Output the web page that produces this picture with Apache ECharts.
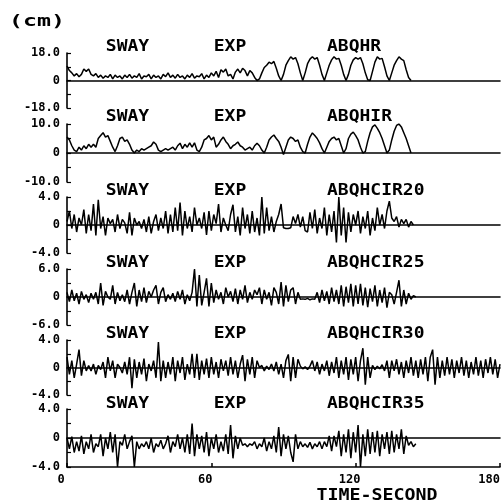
<!DOCTYPE html>
<html><head><meta charset="utf-8">
<script src="https://cdn.jsdelivr.net/npm/echarts@6/dist/echarts.min.js"></script>
<style>html,body{margin:0;padding:0;background:#fff}#c{width:502px;height:504px}</style>
</head><body><div id="c"></div>
<script>
// sampling step of all records (seconds)
const DT = 1;
const xTickValues = [0, 60, 120, 180];
const panelNames = ['ABQHR', 'ABQHIR', 'ABQHCIR20', 'ABQHCIR25', 'ABQHCIR30', 'ABQHCIR35'];
const yLimits = [18, 10, 4, 6, 4, 4];

const swayABQHR = [
 9.5, 6.5, 5, 3, 4.5, 2.5, 4, 7.5, 6, 7.5,
 4, 3, 4.5, 2, 3.5, 1.5, 3, 2, 4, 1,
 3.5, 2, 3, 1, 3.5, 2, 4, 1.5, 3, 2,
 4.5, 1, 3, 2.5, 4, 1, 3.5, 2, 3, 1,
 4, 2.5, 5, 2, 3.5, 1.5, 4, 2, 3, 1,
 3.5, 2, 4.5, 1.5, 3, 2.5, 4.5, 1, 3.5, 2,
 5, 3, 6, 2, 7, 5.5, 7.5, 3, 4, 1,
 5.5, 7.5, 5, 8, 6.5, 3, 6.5, 5, 2, 0,
 1, 5, 8.5, 10, 12, 11, 12.5, 8, 3, 0,
 4, 10, 13, 15.5, 14, 15, 11, 5, 0, 5,
 11, 14, 15.5, 14, 15, 10, 4, 0, 5, 10,
 13.5, 15.5, 14, 14.5, 10, 4, 0, 4, 10, 13.5,
 15, 14, 15, 11, 5, 0.5, 0, 6, 12, 15.5,
 14, 14.5, 9, 3, 0, 5, 10, 13, 15.5, 14,
 13, 7, 2, 0
];
const swayABQHIR = [
 5.5, 4.5, 2.5, 1, 0.5, 2, 1, 2.5, 1.5, 3,
 2, 3, 2, 5, 6, 7, 5.5, 6, 4, 2,
 0.5, 2.5, 5, 5.5, 4, 4.5, 3, 1, 0, 1,
 0.5, 1.5, 1, 1.5, 2, 2.5, 3.8, 3, 1, 0.5,
 1, 1.5, 1, 1.5, 2, 1, 2.5, 3.4, 1.5, 3,
 2, 3.5, 2, 3.5, 1, 0.5, 2, 4.5, 5, 6,
 4.5, 5.5, 2, 3, 4.5, 5.5, 4, 3, 1.5, 2.5,
 3, 3.8, 2.5, 2, 1, 1.5, 2, 1, 2.5, 3.4,
 2.5, 1, 0, 2, 4.5, 5.5, 6.2, 5, 4, 2,
 -0.5, 2, 4.5, 5.5, 5, 4, 4.5, 2, 0.5, 0,
 3, 5.5, 6.9, 6, 5, 3.5, 1.5, 0, 2, 4,
 5, 5.5, 4.5, 5, 2.5, 0, 1.5, 5, 6.5, 7.2,
 6, 4.5, 2, 0, 0.5, 4, 7, 9, 9.7, 8.5,
 7, 5, 2.5, 0, 1, 4.5, 7.5, 9.5, 10, 9,
 7, 5, 2.5, 0
];
const swayABQHCIR20 = [
 0.5, 2.0, -0.5, 1.5, -1.0, 1.0, 0.0, 2.2, -1.2, 1.5,
 -0.8, 3.0, -1.5, 3.6, -0.5, 1.2, -1.5, 1.0, 0.2, 0.8,
 -1.0, 1.5, -0.5, 0.8, 0.3, -1.2, 1.8, -1.5, 1.0, 0.0,
 0.5, -0.5, 0.8, -1.0, 1.2, -1.2, 0.5, 1.5, -0.8, 1.0,
 -0.5, 2.0, -1.2, 1.5, -1.0, 2.5, -0.8, 3.2, -1.5, 2.0,
 -0.5, 1.2, -1.0, 2.5, 0.0, 1.0, -0.5, 1.8, -1.4, 2.0,
 -0.8, 1.5, 0.2, 3.0, -1.0, 1.0, 0.0, -0.8, 1.5, 2.9,
 -1.0, 1.2, -1.5, 2.5, -0.5, 1.5, -1.2, 2.0, -1.0, 1.0,
 -1.5, 4.0, -1.2, 2.5, -0.8, 1.2, -1.0, 0.5, 1.5, 3.0,
 -0.4, -0.5, -0.5, -0.4, 1.2, 0.2, 1.5, -0.3, 1.2, -0.8,
 -1.0, 1.8, -0.5, 2.2, -1.2, 1.0, -0.5, 2.5, -1.5, 1.5,
 -1.0, 2.0, -2.5, 4.0, -1.5, 2.5, -2.5, 1.8, -1.0, 1.5,
 0.0, 2.0, -1.2, 1.2, -0.5, 2.0, -1.5, 1.0, -0.8, 2.5,
 0.0, 1.5, -0.5, 2.0, 3.4, 1.0, 0.5, 1.2, -0.3, 0.8,
 0.2, 0.8, -0.3, 0.5, 0.0
];
const swayABQHCIR25 = [
 1.0, -1.0, 1.5, -0.8, 0.8, -1.5, 1.2, -0.5, 0.5, -1.2,
 0.8, -0.5, 1.0, -1.5, 3.0, -1.8, 1.2, 0.0, -0.5, 2.5,
 -1.5, 1.0, -0.8, 0.5, -1.0, 1.5, -1.5, 1.0, 3.0, -2.0,
 1.5, -1.0, 2.0, -1.2, 1.2, 0.0, 1.5, 2.5, -1.5, 1.0,
 2.0, -1.0, 0.5, -0.5, 0.8, -1.0, 1.2, -0.5, 1.5, -1.5,
 0.5, -0.8, 1.0, 6.0, -2.0, 4.7, -1.8, 1.0, 4.0, -2.0,
 3.0, -1.2, 1.5, -0.5, 1.0, -1.5, 2.0, 0.0, 1.2, -1.0,
 1.8, -1.5, 1.5, -0.5, 2.5, -1.2, 1.0, -0.5, 1.5, 0.5,
 2.0, -1.5, 1.5, -0.5, 1.0, -1.8, 2.0, 1.0, -1.5, 3.2,
 -2.0, 2.5, -1.0, 1.5, 2.0, -1.5, 1.0, -0.5, -0.4, -0.5,
 -0.3, -0.6, -0.4, -0.5, 1.0, -1.2, 1.5, -0.8, 1.2, -1.5,
 2.0, -1.0, 1.5, -1.5, 2.5, -2.0, 2.2, -1.2, 2.8, -2.0,
 2.5, -1.5, 2.8, -1.8, 2.0, -2.2, 1.8, -1.0, 2.5, -2.0,
 1.5, -1.2, 2.0, -2.3, 1.0, 0.5, -1.5, 1.0, 3.6, -2.0,
 1.5, -1.5, 0.8, -0.5, 0.3, 0.0
];
const swayABQHCIR30 = [
 1.5, -1.0, 1.0, -1.5, 0.5, 2.6, -1.2, 1.0, -0.5, 0.3,
 -0.5, 0.5, -1.0, 0.3, -0.3, 0.8, -1.5, 1.5, -0.5, 1.0,
 -1.5, 0.5, 0.0, -0.8, 0.8, -1.0, 1.5, -3.0, 1.2, -1.5,
 0.8, -1.0, 1.3, -2.0, 0.5, -0.5, 1.0, -1.5, 3.7, -2.0,
 1.0, -1.5, 0.8, -1.0, 1.5, -2.0, 1.0, -0.8, 1.5, -1.8,
 0.5, -1.0, 2.0, -1.5, 2.0, -1.8, 1.0, -1.0, 1.3, -1.5,
 1.5, -1.0, 0.8, -1.5, 1.2, -0.5, 1.0, -1.2, 1.5, -1.0,
 1.0, -1.5, 0.5, 1.8, -2.0, 1.2, -1.0, 1.5, -1.5, 1.0,
 0.0, 0.3, -0.5, 0.2, -0.3, 0.5, -0.5, 0.8, -1.0, 0.5,
 -1.5, 1.0, 1.9, -2.0, 1.5, -1.5, 1.2, 0.2, -0.2, 0.1,
 -0.3, 0.2, 1.0, -0.5, 0.8, -1.0, 0.5, -0.5, 1.0, -1.2,
 0.8, -0.8, 1.5, -1.5, 1.0, -1.0, 1.5, -1.8, 1.2, -1.0,
 1.5, -2.0, 1.0, 2.8, -2.5, 1.5, -1.5, 0.3, -0.3, 0.2,
 -0.2, 0.4, -0.5, 1.0, -1.5, 1.0, -0.5, 1.2, -1.0, 0.8,
 -1.5, 1.0, -0.8, 1.5, -1.2, 1.0, -1.5, 1.2, -1.0, 1.5,
 -2.0, 1.5, 2.6, -2.5, 1.5, -1.5, 1.0, -1.2, 1.5, -1.0,
 1.2, -1.5, 1.0, -0.8, 1.5, -1.2, 1.0, -1.5, 0.8, -1.0,
 1.5, -1.2, 1.0, -1.5, 1.2, -0.8, 1.5, -1.0, 1.2, -1.5,
 0.5
];
const swayABQHCIR35 = [
 0.0, -1.5, 0.2, -2.0, -0.5, -1.8, 0.3, -2.2, -0.5, -1.5,
 0.5, -2.0, -0.8, -1.2, 0.5, -2.5, 0.0, -1.5, 0.8, -2.0,
 0.5, -4.0, -0.5, -1.0, 0.5, -1.5, -0.5, 0.3, -4.0, -0.5,
 -1.5, -0.8, -1.2, -0.5, -1.5, 0.0, -2.0, -0.8, -1.2, -0.3,
 -1.5, -0.8, 0.3, -2.0, -0.5, -1.2, 0.5, -1.5, 0.0, -2.0,
 0.5, -2.2, 2.0, -2.5, 0.5, -1.5, 0.3, -2.0, 0.8, -2.5,
 0.0, -1.5, 0.5, -2.0, -0.5, -1.8, 0.5, -2.2, 1.8, -2.8,
 0.3, -1.5, 0.0, -1.0, -0.8, -1.2, -0.8, -1.0, -0.5, -1.5,
 -0.8, -1.2, 0.0, -1.8, -0.5, -1.5, 0.3, -2.0, 1.5, -2.5,
 0.5, -1.5, 0.3, -2.0, -3.3, 0.5, -1.5, -0.5, -1.2, -0.8,
 -1.3, -0.6, -1.5, -0.8, -1.2, -0.5, -1.5, -0.5, -1.2, 0.3,
 -1.8, 0.3, -1.2, 1.0, -2.5, 0.5, -2.0, 1.2, -2.8, 0.8,
 -2.0, 1.8, -4.0, 0.5, -2.5, 1.2, -2.2, 0.8, -2.0, 1.0,
 -2.5, 0.5, -1.5, 0.8, -2.2, 1.0, -2.0, 0.5, -1.5, 1.2,
 -2.2, 0.3, -1.0, -0.5, -1.2, -0.8
];
const seriesValues = [swayABQHR, swayABQHIR, swayABQHCIR20, swayABQHCIR25, swayABQHCIR30, swayABQHCIR35];

// ---------- layout ----------
const FONT = '"DejaVu Sans Mono", "Liberation Mono", monospace';
const gridTops = [53, 124, 197, 269, 340, 409];
const gridHeights = [55, 58, 56, 56, 55, 58];
const titleY = [47, 117, 191, 263, 334, 404];
const xMin = xTickValues[0], xMax = xTickValues[xTickValues.length - 1];
const xStep = xTickValues[1] - xTickValues[0];
const labelText = { color: '#000', fontFamily: FONT, fontWeight: 'bold', fontSize: 12 };

const grid = [], xAxis = [], yAxis = [], series = [], graphic = [];
const last = seriesValues.length - 1;
const zeroLine = gi => ({
  gridIndex: gi, type: 'value', min: xMin, max: xMax, interval: xStep,
  axisLine: { show: true, onZero: true, lineStyle: { color: '#000', width: 1.6 } },
  axisTick: { show: false }, axisLabel: { show: false }, splitLine: { show: false }
});
seriesValues.forEach((vals, i) => {
  const ym = yLimits[i];
  grid.push({ left: 67, right: 2, top: gridTops[i], height: gridHeights[i],
              containLabel: false, outerBoundsMode: 'none' });
  const isBottom = i === last;
  if (!isBottom) {
    xAxis.push(zeroLine(i));
  } else {
    xAxis.push({
      gridIndex: i, type: 'value', min: xMin, max: xMax, interval: xStep, position: 'bottom',
      axisLine: { show: true, onZero: false, lineStyle: { color: '#000', width: 1.6 } },
      axisTick: { show: true, inside: true, length: 4, lineStyle: { color: '#000', width: 1.5 } },
      axisLabel: Object.assign({ show: true, margin: 7, alignMaxLabel: 'right',
        formatter: v => v === xMax ? '{e|' + v + '}' : '{n|' + v + '}',
        rich: { n: Object.assign({ padding: [0, 12, 0, 0] }, labelText), e: Object.assign({}, labelText) }
      }, labelText),
      splitLine: { show: false }
    });
  }
  yAxis.push({
    gridIndex: i, type: 'value', min: -ym, max: ym, interval: ym / 2,
    axisLine: { show: true, onZero: false, lineStyle: { color: '#000', width: 1.6 } },
    axisTick: { show: true, inside: true, length: 4, lineStyle: { color: '#000', width: 1.2 } },
    axisLabel: Object.assign({ margin: 7,
      formatter: v => v === 0 ? '0' : (Math.abs(v) === ym ? v.toFixed(1) : '')
    }, labelText),
    splitLine: { show: false }
  });
  series.push({
    type: 'line', xAxisIndex: i, yAxisIndex: i,
    data: vals.map((v, k) => [k * DT, v]),
    showSymbol: false, symbol: 'none',
    lineStyle: { color: '#000', width: 1.5 },
    animation: false, silent: true
  });

  const tStyle = { font: 'bold 15px ' + FONT, fill: '#000', verticalAlign: 'middle' };
  graphic.push({ type: 'text', x: 127.5, y: titleY[i], scaleX: 1.2,
    style: Object.assign({ text: 'SWAY', align: 'center' }, tStyle) });
  graphic.push({ type: 'text', x: 230, y: titleY[i], scaleX: 1.2,
    style: Object.assign({ text: 'EXP', align: 'center' }, tStyle) });
  graphic.push({ type: 'text', x: 327, y: titleY[i], scaleX: 1.2,
    style: Object.assign({ text: panelNames[i], align: 'left' }, tStyle) });
});
// extra zero-line axis for the bottom panel (its own x axis sits at the bottom)
const zl = zeroLine(last);
zl.position = 'top';
xAxis.push(zl);

graphic.push({ type: 'text', x: 9, y: 22, scaleX: 1.45,
  style: { text: '(cm)', font: 'bold 16px ' + FONT, fill: '#000', verticalAlign: 'middle', align: 'left' } });
graphic.push({ type: 'text', x: 377, y: 496, scaleX: 1.22,
  style: { text: 'TIME-SECOND', font: 'bold 15px ' + FONT, fill: '#000', verticalAlign: 'middle', align: 'center' } });

const chart = echarts.init(document.getElementById('c'), null, { renderer: 'canvas' });
chart.setOption({ animation: false, backgroundColor: '#fff', grid, xAxis, yAxis, series, graphic });
</script>
</body></html>
